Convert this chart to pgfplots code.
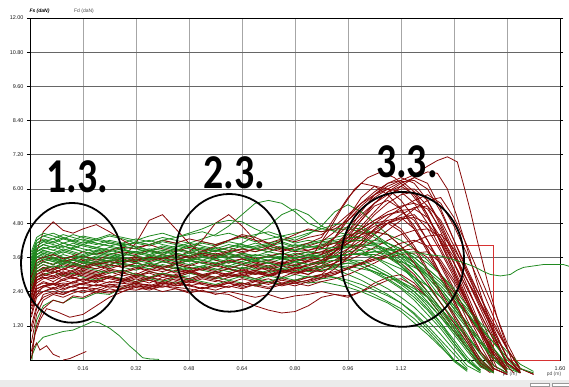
\documentclass[border=0pt]{standalone}
\usepackage{graphicx}
\usepackage{pgfplots}
\pgfplotsset{compat=1.18}
\usepackage{pgfplotstable}
\usepackage{fontspec}
\setmainfont{Liberation Sans}
\newfontfamily\bigfont{Carlito}
\definecolor{rdc}{RGB}{135,8,8}
\definecolor{grc}{RGB}{32,138,32}
\definecolor{stepc}{RGB}{215,50,50}

\pgfplotstableread[header=false]{
x 0.004 0.02 0.04 0.07 0.10 0.13 0.16 0.20 0.24 0.28 0.32 0.36 0.40 0.44 0.48 0.52 0.56 0.60 0.64 0.68 0.72 0.76 0.80 0.84 0.88 0.92 0.96 1.00 1.04 1.08 1.12 1.16 1.20 1.24 1.28 1.32 1.36 1.40 1.44 1.48 1.52
R1 2.2 2.8 2.9 2.75 2.95 2.85 3.0 2.9 3.05 3.15 3.0 3.2 3.1 3.25 3.1 3.2 3.35 3.2 3.1 3.3 3.2 3.35 3.3 3.45 3.4 3.7 4.1 4.6 5.1 5.5 5.8 5.9 5.4 4.5 3.4 2.3 1.2 0.1 -0.4 nan nan
R2 1.9 2.5 2.6 2.5 2.65 2.55 2.7 2.6 2.75 2.7 2.85 2.7 2.9 2.8 2.7 2.85 2.75 2.9 3.0 2.85 3.0 2.9 3.1 3.0 3.3 3.8 4.5 5.2 5.8 6.2 6.3 5.9 5.1 4.1 3.1 2.0 0.9 -0.2 -0.45 nan nan
R3 2.6 3.2 3.35 3.2 3.4 3.3 3.5 3.35 3.45 3.6 3.5 3.65 3.5 3.4 3.55 3.7 3.6 3.75 3.6 3.5 3.65 3.55 3.7 3.8 3.75 3.9 4.1 4.3 4.55 4.8 4.95 5.0 4.8 4.2 3.4 2.5 1.6 0.7 -0.1 -0.45 nan
R4 1.5 2.2 2.4 2.55 2.45 2.6 2.5 2.65 2.55 2.6 2.7 2.6 2.55 2.7 2.6 2.5 2.65 2.55 2.7 2.6 2.75 2.65 2.8 2.7 2.85 3.0 3.2 3.4 3.55 3.6 3.4 3.0 2.4 1.8 1.1 0.4 -0.2 -0.45 nan nan nan
R5 3.0 3.8 4.5 4.85 4.55 4.45 4.6 4.75 4.5 4.2 3.95 4.05 3.9 3.8 3.95 3.85 3.7 3.85 3.75 3.9 3.8 3.95 3.85 4.0 4.15 4.5 5.0 5.5 5.9 6.2 6.4 6.2 5.6 4.7 3.7 2.6 1.5 0.4 -0.3 nan nan
R6 2.3 2.7 2.85 2.95 2.8 2.9 2.75 2.95 3.1 2.95 3.05 2.9 3.0 3.15 3.05 2.95 3.1 3.0 3.2 3.05 2.95 3.1 3.25 3.15 3.3 3.5 3.8 4.1 4.45 4.8 5.1 5.35 5.4 4.9 4.0 3.0 2.0 1.0 0.1 -0.4 nan
R7 2.5 2.9 3.0 3.1 2.95 3.05 3.2 3.1 3.3 3.6 4.1 4.9 5.1 4.6 4.1 3.7 3.5 3.4 3.55 3.4 3.3 3.45 3.35 3.5 3.6 3.9 4.4 4.9 5.4 5.6 5.3 4.7 3.9 3.0 2.1 1.2 0.3 -0.3 -0.5 nan nan
R8 1.2 1.9 2.2 2.35 2.3 2.45 2.35 2.5 2.4 2.5 2.45 2.55 2.4 2.5 2.35 2.45 2.3 2.4 2.3 2.2 2.3 2.15 2.25 2.3 2.4 2.3 2.2 2.4 2.7 2.9 3.0 2.7 2.2 1.6 1.0 0.4 -0.2 -0.45 nan nan nan
R9 2.7 3.1 3.2 3.3 3.15 3.35 3.25 3.4 3.5 3.45 3.6 3.5 3.7 3.6 3.8 4.2 4.8 5.1 4.7 4.2 3.9 3.8 3.95 3.85 4.0 4.3 4.7 5.1 5.5 5.8 6.0 6.0 5.6 4.8 3.8 2.8 1.8 0.8 -0.1 -0.45 nan
R10 2.1 2.6 2.7 2.65 2.8 2.7 2.85 2.75 2.9 2.8 2.95 2.85 3.0 2.9 2.8 2.95 2.85 3.0 2.9 3.05 2.95 3.1 3.0 3.15 3.1 3.3 3.5 3.7 3.95 4.2 4.4 4.55 4.6 4.3 3.6 2.8 2.0 1.2 0.4 -0.3 -0.5
R11 2.8 3.3 3.45 3.35 3.5 3.4 3.55 3.45 3.6 3.5 3.65 3.55 3.7 3.6 3.5 3.65 3.75 3.6 3.7 3.55 3.65 3.75 3.6 3.7 3.8 4.0 4.3 4.6 4.9 5.1 5.2 4.9 4.2 3.4 2.5 1.6 0.7 -0.2 -0.45 nan nan
R12 0.3 1.2 1.8 2.1 2.0 2.25 2.2 2.4 2.35 2.5 2.6 2.55 2.7 2.6 2.65 2.5 2.6 2.7 2.55 2.65 2.75 2.6 2.7 2.8 2.9 3.0 3.2 3.4 3.65 3.9 4.1 4.2 4.0 3.5 2.8 2.0 1.2 0.4 -0.3 nan nan
R13 2.4 2.9 3.05 2.95 3.1 3.0 3.15 3.05 3.2 3.1 3.25 3.15 3.3 3.2 3.1 3.25 3.15 3.3 3.2 3.35 3.25 3.4 3.3 3.5 3.7 4.3 5.0 5.7 6.1 6.0 5.6 5.0 4.2 3.3 2.4 1.4 0.5 -0.3 -0.5 nan nan
R14 2.0 2.5 2.6 2.7 2.55 2.75 2.65 2.8 2.95 2.85 3.0 2.9 3.05 2.95 3.1 3.0 2.9 3.05 3.15 3.0 3.1 3.2 3.05 3.15 3.25 3.4 3.6 3.9 4.2 4.55 4.9 5.3 5.6 5.7 5.0 4.0 2.9 1.8 0.6 -0.3 -0.5
R15 2.9 3.4 3.5 3.6 3.45 3.55 3.65 3.5 3.7 3.8 3.7 3.85 3.75 3.9 3.8 3.7 3.85 3.95 3.8 3.9 4.0 3.85 3.95 4.1 4.3 5.0 5.7 6.2 6.1 5.8 5.3 4.6 3.8 2.9 2.0 1.1 0.2 -0.35 nan nan nan
R16 1.8 2.3 2.4 2.5 2.35 2.45 2.55 2.4 2.6 2.5 2.65 2.55 2.7 2.6 2.75 2.65 2.55 2.7 2.6 2.75 2.85 2.7 2.8 2.9 2.95 3.05 3.2 3.35 3.5 3.6 3.7 3.75 3.8 3.4 2.7 1.9 1.1 0.3 -0.35 nan nan
R17 2.5 3.0 3.1 3.2 3.05 3.15 3.3 3.2 3.35 3.25 3.4 3.3 3.45 3.35 3.5 3.4 3.3 3.45 3.55 3.4 3.5 3.4 3.55 3.45 3.6 3.8 4.1 4.4 4.7 4.8 4.5 3.9 3.1 2.3 1.5 0.7 -0.1 -0.45 nan nan nan
R18 2.2 2.8 2.9 2.85 3.0 2.9 2.8 2.95 2.85 2.75 2.9 2.8 2.7 2.85 2.75 2.9 2.8 2.7 2.85 2.75 2.65 2.8 2.7 2.6 2.75 2.85 3.0 3.2 3.4 3.65 3.9 4.15 4.35 4.4 3.9 3.1 2.2 1.3 0.4 -0.3 -0.5
R19 2.6 3.1 3.25 3.15 3.35 3.25 3.4 3.3 3.2 3.35 3.25 3.1 3.2 3.05 3.15 3.0 3.1 3.2 3.05 3.15 3.25 3.1 3.2 3.35 3.5 3.8 4.2 4.7 5.2 5.7 6.1 6.4 6.2 5.3 4.2 3.1 2.0 0.9 -0.1 -0.45 nan
R20 2.0 2.5 2.6 2.7 2.6 2.75 2.85 2.7 2.9 2.8 2.95 3.05 2.9 3.0 3.1 2.95 3.05 2.9 3.0 3.1 2.95 3.05 3.15 3.0 3.2 3.4 3.7 4.0 4.4 4.8 5.0 5.1 4.6 3.8 2.9 2.0 1.1 0.2 -0.4 nan nan
R21 2.9 3.5 3.6 3.7 3.55 3.65 3.8 3.7 3.85 3.95 3.9 4.05 4.2 4.1 4.25 4.15 4.05 4.2 4.35 4.2 4.1 4.25 4.15 4.3 4.4 4.7 5.1 5.5 5.8 6.0 5.9 5.5 4.8 3.9 3.0 2.0 1.0 0.1 -0.4 nan nan
R22 2.0 2.6 2.75 2.65 2.85 2.95 3.05 2.95 3.15 3.05 3.2 3.35 3.25 3.4 3.3 3.45 3.35 3.5 3.4 3.3 3.45 3.35 3.5 3.6 3.7 3.9 4.2 4.5 4.8 5.1 5.25 5.3 5.0 4.3 3.4 2.5 1.6 0.7 -0.1 -0.45 nan
R23 2.5 3.1 3.2 3.1 3.0 3.1 2.95 2.85 2.95 2.8 2.7 2.8 2.65 2.75 2.6 2.7 2.6 2.55 2.7 2.6 2.5 2.65 2.7 2.8 3.0 3.4 3.9 4.4 4.8 4.9 4.6 4.0 3.2 2.4 1.6 0.8 0.0 -0.4 nan nan nan
R24 2.2 2.8 2.95 3.05 3.2 3.1 3.3 3.4 3.35 3.5 3.45 3.6 3.55 3.7 3.6 3.75 3.65 3.8 3.9 3.8 3.95 4.2 4.4 4.6 4.5 4.6 4.9 5.3 5.7 6.0 6.25 6.3 6.0 5.2 4.2 3.2 2.2 1.1 0.1 -0.45 nan
R25 1.0 1.8 2.3 2.4 2.3 2.45 2.55 2.5 2.65 2.55 2.7 2.6 2.75 2.65 2.8 2.7 2.6 2.75 2.65 2.8 2.7 2.85 2.75 2.9 3.0 3.1 3.25 3.4 3.55 3.7 3.85 3.9 3.6 3.0 2.3 1.6 0.9 0.2 -0.4 nan nan
R26 2.3 2.9 3.0 2.9 3.05 2.95 3.1 3.0 2.9 3.05 2.95 3.1 3.0 2.9 3.05 3.2 3.1 2.95 3.05 3.15 3.0 3.1 3.2 3.3 3.45 3.65 3.9 4.2 4.6 5.0 5.35 5.6 5.8 5.5 4.7 3.7 2.6 1.5 0.4 -0.35 nan
R27 2.7 3.3 3.45 3.35 3.5 3.4 3.3 3.45 3.35 3.25 3.4 3.3 3.2 3.35 3.25 3.15 3.3 3.2 3.35 3.25 3.15 3.3 3.2 3.35 3.5 3.8 4.1 4.4 4.5 4.4 4.0 3.4 2.7 2.0 1.3 0.6 -0.1 -0.45 nan nan nan
R28 1.6 2.4 2.55 2.65 2.5 2.6 2.7 2.8 2.7 2.85 2.75 2.9 2.8 2.95 2.85 3.0 2.9 3.05 2.95 3.1 3.0 3.15 3.05 3.2 3.4 3.8 4.3 4.9 5.5 5.9 6.1 5.8 5.1 4.1 3.1 2.1 1.1 0.2 -0.4 nan nan
R29 2.4 3.0 3.15 3.05 3.2 3.3 3.2 3.35 3.45 3.4 3.55 3.45 3.6 3.5 3.65 3.8 4.0 4.2 4.4 4.3 4.1 3.9 3.8 3.85 3.95 4.1 4.3 4.6 4.9 5.2 5.4 5.5 5.3 4.6 3.7 2.8 1.9 1.0 0.1 -0.4 nan
R30 0.6 1.6 2.1 2.3 2.2 2.35 2.45 2.35 2.5 2.4 2.55 2.45 2.6 2.5 2.4 2.55 2.45 2.6 2.5 2.65 2.55 2.7 2.6 2.75 2.9 3.2 3.6 4.1 4.6 4.9 5.0 4.6 3.9 3.0 2.1 1.2 0.3 -0.3 -0.5 nan nan
G1 3.2 3.8 3.95 3.85 4.0 3.9 3.8 3.95 3.85 3.75 3.8 3.7 3.85 3.75 3.65 3.8 3.7 3.6 3.75 3.65 3.7 3.6 3.75 3.65 3.8 3.9 3.95 4.0 3.85 3.6 3.3 2.9 2.4 1.8 1.2 0.5 -0.1 -0.4 nan nan nan
G2 2.9 3.5 3.65 3.55 3.7 3.6 3.5 3.65 3.55 3.45 3.5 3.4 3.55 3.45 3.35 3.5 3.4 3.3 3.45 3.35 3.4 3.3 3.45 3.35 3.4 3.5 3.55 3.4 3.2 2.95 2.7 2.4 1.9 1.3 0.6 0.0 -0.35 nan nan nan nan
G3 3.5 4.1 4.25 4.15 4.3 4.2 4.1 4.25 4.15 4.05 4.1 4.0 4.15 4.05 3.95 4.1 4.0 4.15 4.05 3.95 4.05 4.15 4.0 4.1 4.2 4.3 4.4 4.45 4.5 4.4 4.2 3.9 3.5 3.0 2.4 1.7 1.0 0.3 -0.3 -0.45 nan
G4 2.6 3.3 3.45 3.35 3.5 3.4 3.3 3.2 3.35 3.25 3.15 3.3 3.2 3.1 3.25 3.15 3.05 3.2 3.1 3.0 3.15 3.05 3.2 3.1 3.15 3.2 3.0 2.8 2.55 2.3 2.0 1.6 1.1 0.6 0.0 -0.35 nan nan nan nan nan
G5 3.3 3.9 4.05 3.95 4.1 4.0 4.15 4.05 4.2 4.1 4.25 4.15 4.3 4.2 4.1 4.25 4.4 4.7 5.1 5.5 5.6 5.5 5.2 4.8 4.6 4.55 4.6 4.5 4.3 4.0 3.7 3.3 2.8 2.2 1.6 0.9 0.2 -0.3 nan nan nan
G6 3.0 3.6 3.75 3.65 3.8 3.7 3.6 3.75 3.65 3.55 3.6 3.5 3.65 3.55 3.45 3.6 3.5 3.4 3.55 3.45 3.5 3.6 3.45 3.55 3.6 3.65 3.7 3.75 3.8 3.8 3.6 3.3 2.9 2.4 1.8 1.2 0.6 0.0 -0.35 nan nan
G7 2.4 3.1 3.25 3.15 3.3 3.2 3.1 3.0 3.15 3.05 2.95 3.1 3.0 2.9 3.05 2.95 2.85 3.0 2.9 2.8 2.95 2.85 3.0 2.9 3.0 2.9 2.7 2.5 2.3 2.05 1.8 1.45 1.0 0.5 -0.05 -0.4 nan nan nan nan nan
G8 3.6 4.2 4.35 4.25 4.4 4.3 4.2 4.1 4.0 4.1 3.95 3.85 4.0 3.9 3.8 3.95 3.85 3.75 3.9 3.8 3.9 4.0 3.85 3.95 4.05 4.1 4.15 4.2 4.05 3.8 3.5 3.1 2.6 2.0 1.4 0.7 0.05 -0.4 nan nan nan
G9 2.8 3.4 3.55 3.45 3.6 3.5 3.65 3.55 3.45 3.6 3.5 3.65 3.55 3.7 3.6 3.5 3.65 3.75 3.6 3.7 3.6 3.75 3.65 3.8 3.7 3.85 3.95 4.05 4.1 4.1 3.9 3.6 3.2 2.8 2.2 1.6 1.0 0.4 -0.15 -0.45 nan
G10 3.1 3.7 3.85 3.75 3.6 3.5 3.4 3.55 3.45 3.35 3.3 3.4 3.25 3.35 3.2 3.3 3.4 3.25 3.35 3.2 3.3 3.2 3.35 3.25 3.3 3.35 3.4 3.4 3.2 2.95 2.65 2.3 1.8 1.3 0.7 0.1 -0.35 nan nan nan nan
G11 2.7 3.2 3.35 3.25 3.4 3.5 3.45 3.6 3.55 3.7 3.65 3.8 3.7 3.85 3.75 3.9 3.8 3.95 4.1 4.35 4.7 5.1 5.3 5.1 4.7 4.5 4.4 4.3 4.1 3.8 3.4 2.9 2.4 1.8 1.2 0.6 -0.05 -0.4 nan nan nan
G12 3.4 4.0 4.15 4.05 3.95 4.1 4.0 3.9 3.8 3.9 3.75 3.85 3.7 3.6 3.75 3.65 3.55 3.7 3.6 3.5 3.65 3.55 3.45 3.6 3.5 3.6 3.5 3.3 3.05 2.8 2.5 2.1 1.6 1.1 0.5 -0.05 -0.4 nan nan nan nan
G13 2.9 3.5 3.6 3.5 3.4 3.55 3.45 3.35 3.25 3.4 3.3 3.2 3.35 3.25 3.15 3.3 3.2 3.1 3.25 3.15 3.05 3.2 3.1 3.25 3.15 3.25 3.3 3.2 3.1 2.95 2.75 2.5 2.2 1.8 1.3 0.8 0.3 -0.2 -0.45 nan nan
G14 3.2 3.8 3.9 4.0 3.85 3.95 4.05 3.95 4.1 4.0 4.15 4.05 4.2 4.1 4.0 4.15 4.05 4.2 4.3 4.15 4.25 4.35 4.2 4.4 4.7 5.2 5.45 5.2 4.8 4.4 4.0 3.5 3.0 2.5 1.9 1.3 0.7 0.1 -0.35 nan nan
G15 2.2 2.9 3.0 3.1 2.95 3.05 2.9 2.8 2.95 2.85 2.75 2.9 2.8 2.7 2.85 2.75 2.65 2.8 2.7 2.6 2.75 2.65 2.8 2.7 2.75 2.65 2.55 2.4 2.2 2.0 1.7 1.3 0.9 0.45 0.0 -0.35 nan nan nan nan nan
G16 3.8 4.3 4.45 4.35 4.25 4.4 4.3 4.2 4.35 4.25 4.1 4.2 4.05 3.95 4.1 4.0 3.9 4.05 3.95 4.1 4.0 3.9 4.05 3.95 4.0 4.1 4.05 4.0 4.05 3.9 3.7 3.45 3.1 2.7 2.2 1.6 1.0 0.4 -0.2 -0.45 nan
G17 3.0 3.6 3.75 3.6 3.5 3.65 3.55 3.45 3.6 3.5 3.4 3.55 3.45 3.35 3.5 3.4 3.3 3.45 3.35 3.5 3.4 3.55 3.45 3.6 3.5 3.6 3.7 3.75 3.8 3.85 3.9 3.7 3.4 3.0 2.5 1.9 1.3 0.8 0.3 -0.15 -0.4
G18 2.7 3.3 3.45 3.55 3.5 3.65 3.6 3.75 3.7 3.85 3.8 3.9 3.85 4.0 3.9 3.8 3.95 3.85 4.0 3.9 3.8 3.95 3.85 4.0 3.9 3.95 4.0 4.05 4.0 3.7 3.3 2.8 2.3 1.7 1.1 0.5 -0.1 -0.4 nan nan nan
G19 3.3 3.9 4.05 3.95 4.1 4.0 3.9 3.8 3.95 3.85 3.75 3.65 3.8 3.7 3.6 3.75 3.65 3.55 3.7 3.6 3.5 3.65 3.55 3.7 3.6 3.65 3.7 3.7 3.6 3.4 3.2 2.9 2.6 2.2 1.7 1.1 0.6 0.1 -0.35 nan nan
G20 3.1 3.7 3.8 3.7 3.85 3.75 3.65 3.8 3.7 3.6 3.5 3.6 3.45 3.55 3.5 3.4 3.55 3.45 3.35 3.5 3.4 3.3 3.45 3.35 3.4 3.3 3.4 3.3 3.1 2.85 2.55 2.2 1.75 1.2 0.6 0.0 -0.4 nan nan nan nan
G21 3.4 4.0 4.15 4.25 4.1 4.2 4.35 4.25 4.4 4.3 4.2 4.35 4.45 4.3 4.4 4.5 4.35 4.45 4.3 4.4 4.5 4.35 4.45 4.55 4.5 4.6 4.65 4.6 4.4 4.1 3.8 3.4 2.9 2.4 1.8 1.2 0.6 0.0 -0.4 nan nan
G22 2.8 3.4 3.55 3.45 3.35 3.5 3.4 3.3 3.45 3.35 3.25 3.4 3.3 3.2 3.35 3.25 3.15 3.3 3.2 3.35 3.25 3.15 3.3 3.2 3.25 3.3 3.2 3.0 2.75 2.5 2.2 1.85 1.4 0.9 0.35 -0.2 -0.45 nan nan nan nan
G23 3.7 4.2 4.35 4.45 4.3 4.15 4.25 4.1 4.0 3.9 4.0 3.85 3.75 3.9 3.8 3.7 3.85 3.75 3.9 4.0 4.1 4.2 4.3 4.45 4.6 4.75 4.8 4.7 4.4 4.0 3.6 3.1 2.6 2.0 1.4 0.8 0.2 -0.3 nan nan nan
G24 3.2 3.8 3.95 3.85 3.75 3.9 3.8 3.7 3.6 3.75 3.65 3.55 3.7 3.6 3.5 3.65 3.55 3.7 3.6 3.5 3.65 3.55 3.6 3.65 3.6 3.65 3.7 3.7 3.7 3.6 3.45 3.25 3.0 2.6 2.1 1.6 1.1 0.6 0.1 -0.3 -0.45
G25 2.5 3.1 3.2 3.3 3.25 3.35 3.45 3.4 3.5 3.45 3.55 3.5 3.6 3.45 3.55 3.5 3.4 3.55 3.45 3.6 3.5 3.65 3.55 3.7 3.65 3.75 3.8 3.85 3.9 3.9 3.7 3.4 3.0 2.5 1.9 1.3 0.7 0.1 -0.35 nan nan
G26 3.3 3.9 4.05 4.15 4.0 3.9 4.05 3.95 3.85 4.0 3.9 3.8 3.95 3.85 4.0 3.9 3.8 3.95 4.05 3.9 4.0 4.1 3.95 4.05 4.15 4.2 4.3 4.3 4.1 3.75 3.3 2.8 2.2 1.6 1.0 0.4 -0.15 -0.45 nan nan nan
G27 3.0 3.6 3.7 3.55 3.45 3.35 3.25 3.15 3.05 3.15 3.0 2.9 3.05 2.95 2.85 3.0 2.9 2.8 2.95 2.85 2.75 2.9 2.8 2.95 2.85 2.9 2.8 2.65 2.45 2.25 2.0 1.65 1.2 0.7 0.2 -0.3 nan nan nan nan nan
G28 3.5 4.1 4.2 4.1 4.25 4.15 4.05 4.2 4.1 4.0 4.15 4.05 4.2 4.3 4.45 4.6 4.8 4.9 4.85 4.6 4.4 4.25 4.1 4.2 4.1 4.15 4.2 4.2 4.2 4.1 3.9 3.6 3.2 2.8 2.3 1.8 1.2 0.6 0.0 -0.4 nan
G29 2.7 3.3 3.45 3.35 3.5 3.4 3.3 3.45 3.35 3.5 3.4 3.3 3.45 3.35 3.5 3.4 3.3 3.45 3.35 3.5 3.4 3.3 3.45 3.35 3.45 3.5 3.5 3.5 3.3 3.05 2.75 2.4 2.0 1.5 1.0 0.4 -0.15 -0.45 nan nan nan
G30 3.1 3.7 3.85 3.75 3.9 3.8 3.7 3.85 3.75 3.65 3.8 3.7 3.6 3.75 3.65 3.8 3.7 3.6 3.75 3.65 3.8 3.7 3.85 3.75 3.9 3.95 4.0 3.85 3.6 3.3 2.95 2.55 2.05 1.5 0.9 0.3 -0.25 -0.45 nan nan nan
}\raw
\pgfplotstabletranspose[colnames from=0]\data\raw

\begin{document}
\begin{tikzpicture}
\useasboundingbox (-30bp,-27bp) rectangle (539bp,360bp);
\fill[black!8] (-30bp,-27bp) rectangle (539bp,-20bp);
\draw[black!40, fill=white, line width=0.3pt] (500bp,-26.5bp) rectangle (519bp,-23bp);
\draw[black!40, fill=white, line width=0.3pt] (522bp,-26.5bp) rectangle (539bp,-23bp);
\begin{axis}[
  scale only axis, width=530bp, height=342bp,
  at={(0,0)}, anchor=south west,
  xmin=0, xmax=1.6, ymin=0, ymax=12,
  clip=false,
  xtick={0.16,0.32,0.48,0.64,0.8,0.96,1.12,1.28,1.44,1.6},
  xticklabels={0.16,0.32,0.48,0.64,0.80,0.96,1.12,,,1.60},
  ytick={1.2,2.4,3.6,4.8,6,7.2,8.4,9.6,10.8,12},
  yticklabels={1.20,2.40,3.60,4.80,6.00,7.20,8.40,9.60,10.80,12.00},
  grid=major,
  x grid style={black!35, line width=0.7pt},
  y grid style={black!60, line width=0.6pt},
  axis line style={black, line width=0.9pt},
  tick label style={font=\fontsize{5.5}{6}\selectfont, text=black!90},
  /pgf/number format/assume math mode=true,
  xtick style={draw=none},
  ytick style={black, line width=0.6pt},
  tick align=outside, major tick length=3bp,
  rd/.style={color=rdc, line width=0.8pt},
  gr/.style={color=grc, line width=0.8pt},
]
\node[font=\fontsize{5}{6}\selectfont, text=black!70] at (axis cs:1.449,-0.49) {pd (m)};
\addplot[stepc, line width=0.8pt] coordinates {(1.20,4.02) (1.40,4.02) (1.40,0) (1.60,0)};

\addplot[gr] coordinates {(0.004,0.1) (0.02,0.55) (0.04,0.8) (0.07,0.9) (0.10,1.0) (0.13,1.05) (0.16,1.2) (0.19,1.35) (0.21,1.3) (0.24,1.12) (0.27,0.85) (0.30,0.5) (0.32,0.3) (0.34,0.08) (0.36,0.04) (0.39,0.02)};
\addplot[gr] coordinates {(0.006,0) (0.01,0.6) (0.02,1.4) (0.04,1.9) (0.07,2.1) (0.10,2.0) (0.13,2.2) (0.16,2.15) (0.20,2.35) (0.24,2.3) (0.28,2.55) (0.32,2.7) (0.36,2.85) (0.40,2.75) (0.44,2.9) (0.48,2.95)};
\addplot[rd] coordinates {(0.004,0.05) (0.01,0.4) (0.02,0.6) (0.03,0.35) (0.05,0.5) (0.07,0.2) (0.09,0.1)};
\addplot[rd] coordinates {(0.10,0.0) (0.12,0.05) (0.14,0.15) (0.16,0.25) (0.17,0.3)};
\addplot[rd] coordinates {(0.006,0.2) (0.015,0.9) (0.03,1.4) (0.05,1.8) (0.08,1.7) (0.12,1.5) (0.16,1.6) (0.20,1.9) (0.24,2.2) (0.28,2.4) (0.32,2.6) (0.36,2.5) (0.40,2.6)};
\addplot[rd] coordinates {(0.004,2.0) (0.04,2.6) (0.10,2.7) (0.20,2.6) (0.30,2.7) (0.40,2.6) (0.48,2.5) (0.52,2.4) (0.56,2.35) (0.60,2.3) (0.64,2.1) (0.68,1.9) (0.72,1.75) (0.76,1.65) (0.80,1.7) (0.84,1.9) (0.88,2.2) (0.92,2.3) (0.96,2.25) (1.00,2.4) (1.04,2.6) (1.08,2.8) (1.12,2.85) (1.16,2.6) (1.20,2.2) (1.24,1.6) (1.28,1.0) (1.32,0.4) (1.36,-0.2) (1.39,-0.45)};

\pgfplotsinvokeforeach{1,...,30}{
  \addplot[gr] table[x=x, y=G#1] {\data};
  \addplot[rd] table[x=x, y=R#1] {\data};
}

\addplot[rd] coordinates {(0.88,3.9) (0.92,4.3) (0.96,4.9) (1.00,5.4) (1.04,5.8) (1.08,6.1) (1.12,6.3) (1.16,6.5) (1.20,6.8) (1.23,7.0) (1.26,7.13) (1.29,6.95) (1.31,6.1) (1.33,5.2) (1.35,4.2) (1.38,2.8) (1.41,1.5) (1.44,0.45) (1.46,-0.2) (1.48,-0.45)};
\addplot[rd] coordinates {(0.92,4.0) (0.96,4.5) (1.00,5.0) (1.04,5.5) (1.08,5.9) (1.12,6.2) (1.16,6.4) (1.20,6.6) (1.23,6.55) (1.26,6.0) (1.29,5.0) (1.32,3.9) (1.35,2.7) (1.38,1.6) (1.41,0.6) (1.44,-0.2) (1.46,-0.45)};
\addplot[rd] coordinates {(0.86,3.8) (0.90,4.5) (0.94,5.3) (0.98,6.0) (1.02,6.4) (1.06,6.6) (1.10,6.4) (1.14,6.0) (1.18,5.4) (1.22,4.6) (1.26,3.7) (1.30,2.7) (1.34,1.6) (1.38,0.5) (1.41,-0.3)};
\addplot[gr] coordinates {(0.90,3.6) (0.96,3.7) (1.00,3.7) (1.04,3.8) (1.08,3.7) (1.12,3.75) (1.16,3.8) (1.20,3.7) (1.24,3.65) (1.27,3.55) (1.30,3.45) (1.34,3.28) (1.37,3.1) (1.39,3.0) (1.42,2.95) (1.45,3.0) (1.47,3.15) (1.49,3.25) (1.52,3.3) (1.55,3.35) (1.58,3.35) (1.61,3.35) (1.63,3.28)};

\draw[line width=1.8pt] (axis cs:0.127,3.41) ellipse [x radius=0.154, y radius=2.10];
\draw[line width=1.8pt] (axis cs:0.602,3.76) ellipse [x radius=0.1615, y radius=2.065];
\draw[line width=1.8pt] (axis cs:1.1245,3.53) ellipse [x radius=0.1857, y radius=2.365];

\node[font=\bigfont\bfseries\fontsize{40}{40}\selectfont, inner sep=0pt] at (axis cs:0.142,6.44) {\scalebox{1}[1.22]{1.3.}};
\node[font=\bigfont\bfseries\fontsize{40}{40}\selectfont, inner sep=0pt] at (axis cs:0.617,6.58) {\scalebox{1}[1.22]{2.3.}};
\node[font=\bigfont\bfseries\fontsize{40}{40}\selectfont, inner sep=0pt] at (axis cs:1.138,6.94) {\scalebox{1}[1.22]{3.3.}};
\end{axis}
\node[font=\fontsize{5}{6}\selectfont\bfseries\itshape] at (9.5bp,348.5bp) {Fs (daN)};
\node[font=\fontsize{5}{6}\selectfont, text=black!70] at (54bp,348.5bp) {Fd (daN)};
\node[font=\fontsize{5}{6}\selectfont, text=black!70] at (524bp,-14bp) {pd (m)};
\end{tikzpicture}
\end{document}
